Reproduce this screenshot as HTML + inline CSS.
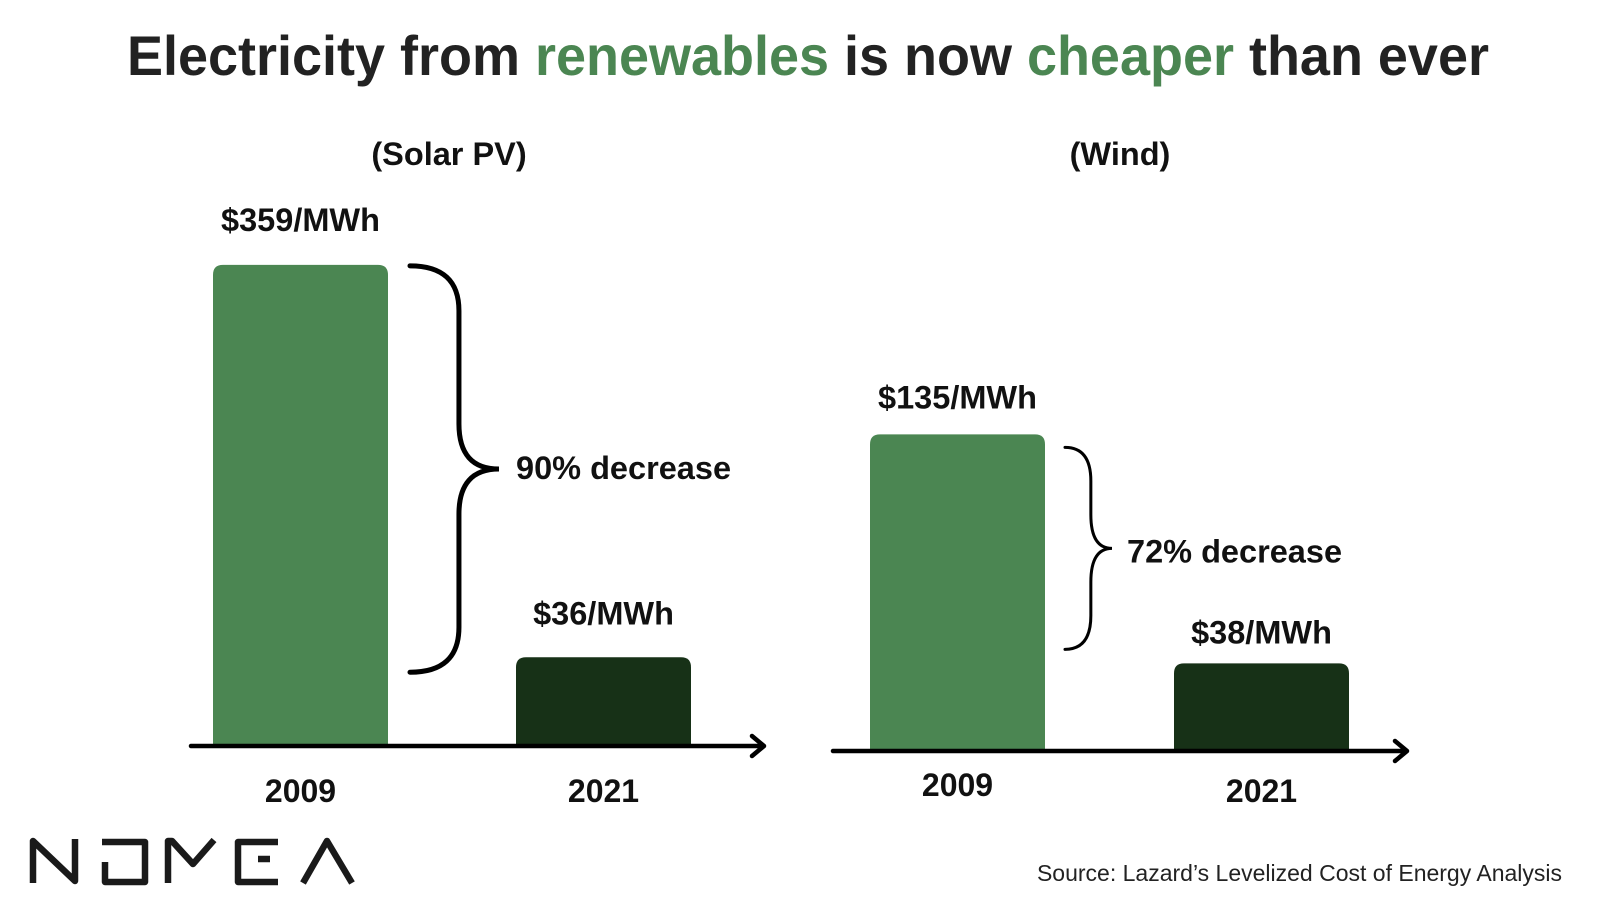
<!DOCTYPE html>
<html><head><meta charset="utf-8"><style>
html,body{margin:0;padding:0;background:#fff;}
svg{display:block;font-family:"Liberation Sans",Arial,sans-serif;}
</style></head><body>
<svg id="chart" width="1600" height="900" viewBox="0 0 1600 900">
<text x="808" y="75" text-anchor="middle" font-size="56" font-weight="bold" fill="#222" textLength="1362" lengthAdjust="spacingAndGlyphs">Electricity from <tspan fill="#4b8652">renewables</tspan> is now <tspan fill="#4b8652">cheaper</tspan> than ever</text>
<g id="panels"></g>
<g fill="none" stroke="#1a1a1a" stroke-width="6.5" stroke-linejoin="round" stroke-linecap="butt">
<path d="M33 883 V841 L75 881 V839"/>
<path d="M102 842 H145 V882 H105 V862"/>
<path d="M168 883 V841 H172 L193 864 L214 840"/>
<path d="M278 842 H238 V882 H278 M258 859 H270"/>
<path d="M303 883 L327 841 L352 883"/>
</g>
<text x="1562" y="881" text-anchor="end" font-size="23" fill="#222">Source: Lazard’s Levelized Cost of Energy Analysis</text>
</svg>
<script>
const categories = ["2009", "2021"];
const panelTitles = ["(Solar PV)", "(Wind)"];
const solarValues = [359, 36];
const windValues = [135, 38];
const units = "/MWh";

const NS = "http://www.w3.org/2000/svg";
const root = document.getElementById("panels");
function mk(tag, attrs, parent) {
  const e = document.createElementNS(NS, tag);
  for (const k in attrs) e.setAttribute(k, attrs[k]);
  (parent || root).appendChild(e);
  return e;
}
const panels = [
  {key:"solar", title:panelTitles[0], values:solarValues, titleX:449, axisY:746, axisX0:191, axisX1:764,
   barX:[213,516], barW:175, a:45, b:1.215, yearY:[791,791], braceX:410, braceTip:499, bw:5, labelX:516, lblOff:[34,33], pctDy:3},
  {key:"wind", title:panelTitles[1], values:windValues, titleX:1120, axisY:751, axisX0:833, axisX1:1407,
   barX:[870,1174], barW:175, a:-2, b:2.36, yearY:[785,791], braceX:1065, braceTip:1112, bw:3, labelX:1127, lblOff:[26,20], pctDy:7}
];
const colors = ["#4b8652", "#173117"];
panels.forEach(p => {
  const g = mk("g", {});
  
  
  const yScale = v => p.axisY - (p.a + p.b * v);
  const t = mk("text", {x:p.titleX, y:165, "text-anchor":"middle", "font-size":32.5, "font-weight":"bold", fill:"#111"}, g);
  t.textContent = p.title;
  
  
  const tops = [];
  p.values.forEach((v, i) => {
    const top = yScale(v);
    tops.push(top);
    const x = p.barX[i], w = p.barW, r = 10;
    const bar = mk("path", {d:`M${x} ${p.axisY} V${top + r} Q${x} ${top} ${x + r} ${top} H${x + w - r} Q${x + w} ${top} ${x + w} ${top + r} V${p.axisY} Z`, fill:colors[i]}, g);
    
    
    const lbl = mk("text", {x:x + w / 2, y:top - p.lblOff[i], "text-anchor":"middle", "font-size":32.5, "font-weight":"bold", fill:"#111"}, g);
    lbl.textContent = "$" + v + units;
    
    
    const yr = mk("text", {x:x + w / 2, y:p.yearY[i] + 11, "text-anchor":"middle", "font-size":32, "font-weight":"bold", fill:"#111"}, g);
    yr.textContent = categories[i];
    
    
  });
  const ax = mk("path", {d:`M${p.axisX0} ${p.axisY} H${p.axisX1} M${p.axisX1 - 12} ${p.axisY - 10} L${p.axisX1} ${p.axisY} L${p.axisX1 - 12} ${p.axisY + 10}`, stroke:"#000", "stroke-width":4.5, fill:"none", "stroke-linecap":"round", "stroke-linejoin":"round"}, g);
  
  
  const y0 = tops[0] + (p.key === "wind" ? 13 : 1), y1 = tops[1] + (p.key === "wind" ? -14 : 15);
  const mid = (y0 + y1) / 2, bx = p.braceX, tip = p.braceTip, cx = bx + (tip - bx) * 0.55, rr = Math.min(45, (y1 - y0) / 6);
  const brace = mk("path", {d:`M${bx} ${y0} Q${cx} ${y0} ${cx} ${y0 + rr} V${mid - rr} Q${cx} ${mid} ${tip} ${mid} Q${cx} ${mid} ${cx} ${mid + rr} V${y1 - rr} Q${cx} ${y1} ${bx} ${y1}`, stroke:"#000", "stroke-width":p.bw, fill:"none", "stroke-linecap":"round"}, g);
  
  
  const pct = Math.round((1 - p.values[1] / p.values[0]) * 100);
  const dl = mk("text", {x:p.labelX, y:mid + 7 + p.pctDy, "font-size":32.5, "font-weight":"bold", fill:"#111"}, g);
  dl.textContent = pct + "% decrease";
  
  
});
</script>
</body></html>
